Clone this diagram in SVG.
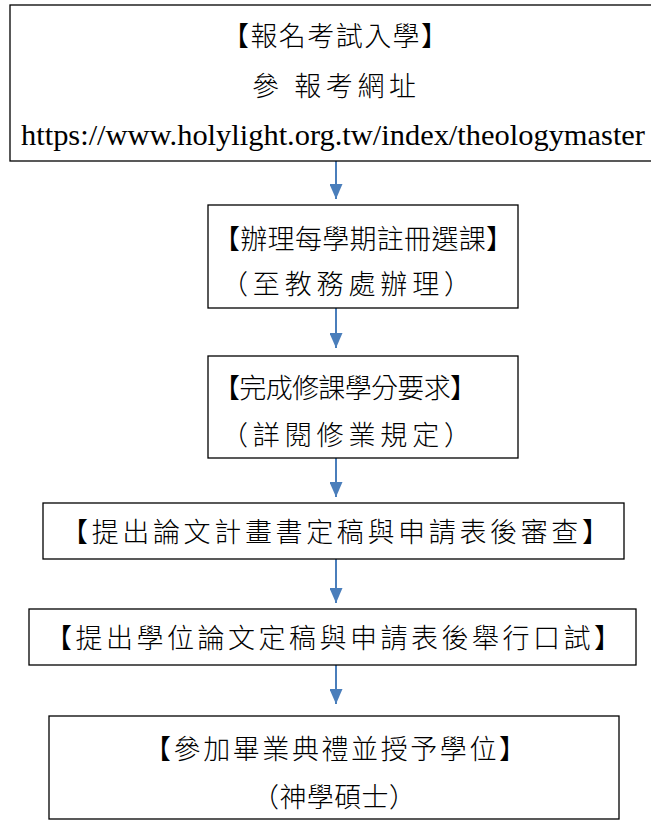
<svg xmlns="http://www.w3.org/2000/svg" width="651" height="821" viewBox="0 0 651 821">
<defs>
<style>
.box{fill:#fff;stroke:#000;stroke-width:1.3}
.cjk{font-family:"Noto Sans CJK TC","Noto Sans CJK SC",sans-serif;font-size:27px;font-weight:300;fill:#000}
.url{font-family:"Liberation Serif",serif;font-size:30px;fill:#000}
.conn{stroke:#4a7ebb;stroke-width:2;fill:none}
</style>
<marker id="ah" markerWidth="15" markerHeight="13" refX="15" refY="6.5" orient="auto" markerUnits="userSpaceOnUse">
<path d="M0,0 L15,6.5 L0,13 Z" fill="#4a7ebb"/>
</marker>
</defs>
<rect width="651" height="821" fill="#fff"/>
<g id="connectors">
<line class="conn" x1="336" y1="161" x2="336" y2="199" marker-end="url(#ah)"/>
<line class="conn" x1="336" y1="308" x2="336" y2="348" marker-end="url(#ah)"/>
<line class="conn" x1="336" y1="458" x2="336" y2="497" marker-end="url(#ah)"/>
<line class="conn" x1="336" y1="559" x2="336" y2="603" marker-end="url(#ah)"/>
<line class="conn" x1="336" y1="665" x2="336" y2="704" marker-end="url(#ah)"/>
</g>
<g id="n1">
<rect class="box" x="10" y="5" width="645" height="156"/>
<text class="cjk" x="222" y="46" textLength="226" lengthAdjust="spacing">【報名考試入學】</text>
<text class="cjk" x="252" y="96" textLength="164" lengthAdjust="spacing">參 報考網址</text>
<text class="url" x="21" y="145" textLength="624" lengthAdjust="spacingAndGlyphs">https://www.holylight.org.tw/index/theologymaster</text>
</g>
<g id="n2">
<rect class="box" x="208" y="205" width="310" height="103"/>
<text class="cjk" x="213" y="249" textLength="300" lengthAdjust="spacing">【辦理每學期註冊選課】</text>
<text class="cjk" x="221" y="294" textLength="250" lengthAdjust="spacing">（至教務處辦理）</text>
</g>
<g id="n3">
<rect class="box" x="208" y="356" width="310" height="102"/>
<text class="cjk" x="213" y="398" textLength="264" lengthAdjust="spacing">【完成修課學分要求】</text>
<text class="cjk" x="221" y="445" textLength="250" lengthAdjust="spacing">（詳閱修業規定）</text>
</g>
<g id="n4">
<rect class="box" x="43" y="503" width="581" height="56"/>
<text class="cjk" x="61" y="542" textLength="548" lengthAdjust="spacing">【提出論文計畫書定稿與申請表後審查】</text>
</g>
<g id="n5">
<rect class="box" x="29" y="609" width="607" height="56"/>
<text class="cjk" x="45" y="648" textLength="576" lengthAdjust="spacing">【提出學位論文定稿與申請表後舉行口試】</text>
</g>
<g id="n6">
<rect class="box" x="49" y="716" width="570" height="103"/>
<text class="cjk" x="144" y="759" textLength="382" lengthAdjust="spacing">【參加畢業典禮並授予學位】</text>
<text class="cjk" x="252" y="807" textLength="164" lengthAdjust="spacing">（神學碩士）</text>
</g>
</svg>
